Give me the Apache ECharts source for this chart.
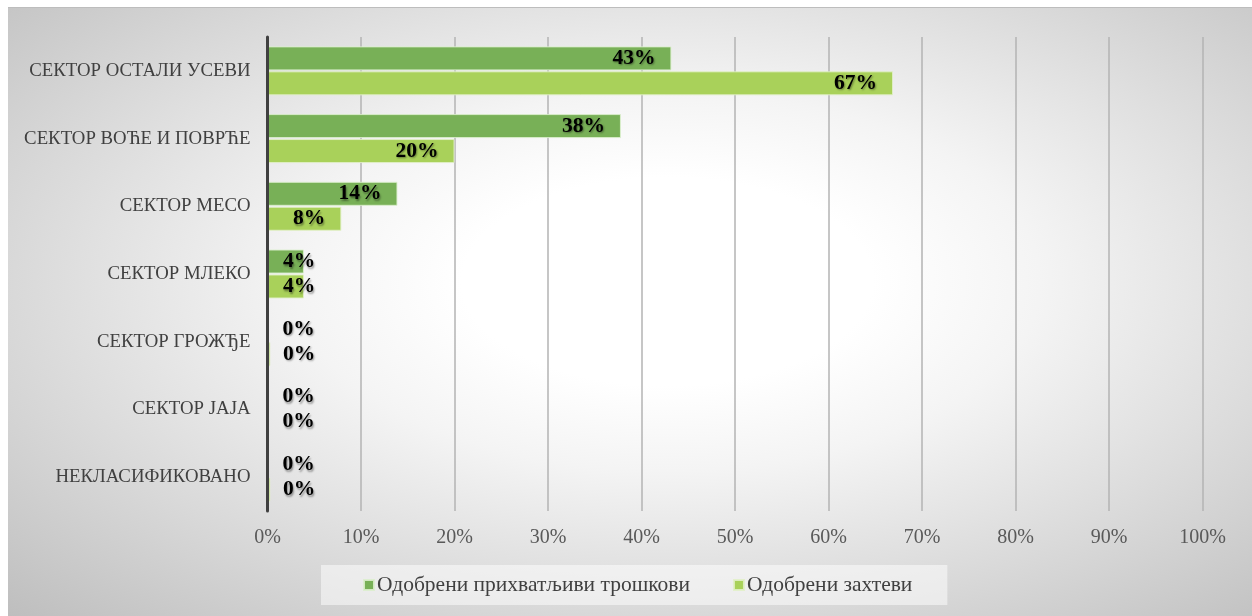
<!DOCTYPE html>
<html>
<head>
<meta charset="utf-8">
<script src="https://cdn.jsdelivr.net/npm/echarts@6/dist/echarts.min.js"></script>
<style>
  html, body { margin: 0; padding: 0; background: #ffffff; }
  #bg { position: absolute; left: 8px; top: 7px; width: 1244px; height: 609px;
        border-top: 1px solid #bdbdbd; box-sizing: border-box;
        background: radial-gradient(ellipse farthest-corner at 53% 45%, #ffffff 22%, #f4f4f4 40%, #bebebe 100%); }
  #chart { position: absolute; left: 0; top: 0; width: 1252px; height: 616px; }
</style>
</head>
<body>
<div id="bg"></div>
<div id="chart"></div>
<script>
const categories = [
  'СЕКТОР ОСТАЛИ УСЕВИ',
  'СЕКТОР ВОЋЕ И ПОВРЋЕ',
  'СЕКТОР МЕСО',
  'СЕКТОР МЛЕКО',
  'СЕКТОР ГРОЖЂЕ',
  'СЕКТОР ЈАЈА',
  'НЕКЛАСИФИКОВАНО'
];
const seriesNames = ['Одобрени прихватљиви трошкови', 'Одобрени захтеви'];
const approvedCosts = [43.2, 37.8, 13.9, 3.9, 0, 0, 0];
const approvedRequests = [66.9, 20.0, 7.9, 3.9, 0.3, 0, 0.3];
const xTicks = [0, 10, 20, 30, 40, 50, 60, 70, 80, 90, 100];

const colors = ['#78b057', '#a9d15a'];

function buildData(values) {
  return values.map(v => {
    if (v < 6) {
      return { value: v, label: { position: 'insideLeft', distance: 15.5 } };
    }
    return { value: v };
  });
}

const labelStyle = {
  show: true,
  position: 'insideRight',
  distance: 16,
  formatter: p => Math.round(p.value) + '%',
  fontFamily: '"Liberation Serif", "Times New Roman", serif',
  fontWeight: 'bold',
  fontSize: 21.5,
  color: '#000000',
  textShadowColor: 'rgba(0,0,0,0.4)',
  textShadowBlur: 2,
  textShadowOffsetX: 1,
  textShadowOffsetY: 1.5
};

const chart = echarts.init(document.getElementById('chart'), null, { renderer: 'canvas' });
chart.setOption({
  backgroundColor: 'transparent',
  animation: false,
  grid: { left: 267.5, right: 49.5, top: 37, bottom: 105, containLabel: false },
  legend: {
    data: seriesNames,
    left: 321,
    top: 565,
    padding: [9, 35, 9, 42],
    itemWidth: 10,
    itemHeight: 10,
    itemGap: 43,
    icon: 'rect',
    backgroundColor: 'rgba(255,255,255,0.5)',
    textStyle: {
      fontFamily: '"Liberation Serif", "Times New Roman", serif',
      fontSize: 21.5,
      color: '#404040',
      padding: [0, 0, 0, -2]
    }
  },
  xAxis: {
    type: 'value',
    min: xTicks[0],
    max: xTicks[xTicks.length - 1],
    interval: 10,
    axisLine: { show: false },
    axisTick: { show: false },
    splitLine: { show: true, lineStyle: { color: '#b3b3b3', width: 1.5 } },
    axisLabel: {
      formatter: v => v + '%',
      margin: 17,
      fontFamily: '"Liberation Serif", "Times New Roman", serif',
      fontSize: 20,
      color: '#595959'
    }
  },
  yAxis: {
    type: 'category',
    data: categories,
    inverse: true,
    z: 5,
    axisLine: { show: true, lineStyle: { color: '#404040', width: 3 } },
    axisTick: { show: false },
    splitLine: { show: false },
    axisLabel: {
      margin: 17,
      fontFamily: '"Liberation Serif", "Times New Roman", serif',
      fontSize: 18.8,
      color: '#404040'
    }
  },
  series: [
    {
      name: seriesNames[0],
      type: 'bar',
      data: buildData(approvedCosts),
      barWidth: 24,
      barGap: '4%',
      itemStyle: { color: colors[0], borderColor: 'rgba(220,238,205,0.9)', borderWidth: 1 },
      label: labelStyle
    },
    {
      name: seriesNames[1],
      type: 'bar',
      data: buildData(approvedRequests),
      barWidth: 24,
      barGap: '4%',
      itemStyle: { color: colors[1], borderColor: 'rgba(225,240,200,0.9)', borderWidth: 1 },
      label: labelStyle
    }
  ]
});
</script>
</body>
</html>
